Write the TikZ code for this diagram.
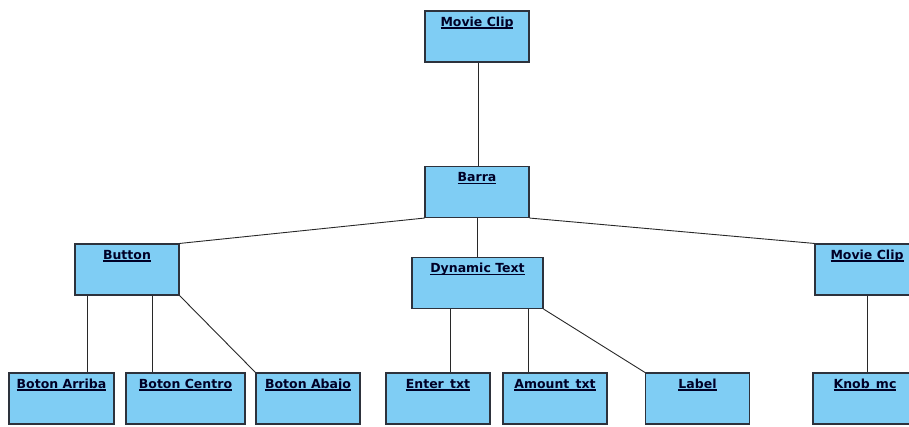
\documentclass[tikz,border=0pt]{standalone}
\usepackage{fontspec}
\setmainfont{DejaVu Sans}
\newsavebox\lblbox
% bold title with a thick underline a little below the baseline
\newcommand\ultitle[1]{\sbox\lblbox{\bfseries #1}\rlap{\usebox\lblbox}\rule[-2.6pt]{\wd\lblbox}{1.2pt}}
\definecolor{boxfill}{RGB}{127,205,244}
\definecolor{boxline}{RGB}{45,50,60}
\definecolor{wire}{RGB}{40,40,40}
\begin{document}
\begin{tikzpicture}[x=1pt,y=-1pt,
  cls/.style={draw=boxline, fill=boxfill, line width=1.1pt, rectangle,
    minimum width=#1, inner xsep=0pt, inner ysep=4pt,
    text height=11pt, text depth=32pt,
    font=\fontsize{12.5}{14}\selectfont, text=black!85!blue},
  cls/.default=104pt,
  link/.style={draw=wire, line width=0.9pt}]
\useasboundingbox (0,0) rectangle (909,426);
\begin{scope}
\clip (0,0) rectangle (909,426);

% top level
\node[cls] (mc1) at (477,36.5) {\ultitle{Movie Clip}};
\node[cls] (barra) at (477,192) {\ultitle{Barra}};

% middle row
\node[cls] (button) at (127,269.5) {\ultitle{Button}};
\node[cls=131pt] (dyn) at (477.5,283) {\ultitle{Dynamic Text}};
\node[cls] (mc2) at (867,269.5) {\ultitle{Movie Clip}};

% bottom row
\node[cls=105pt] (arriba) at (61.5,398.5) {\ultitle{Boton Arriba}};
\node[cls=119pt] (centro) at (185.5,398.5) {\ultitle{Boton Centro}};
\node[cls] (abajo) at (308,398.5) {\ultitle{Boton Abajo}};
\node[cls] (enter) at (438,398.5) {\ultitle{Enter\_txt}};
\node[cls] (amount) at (555,398.5) {\ultitle{Amount\_txt}};
\node[cls] (label) at (697.5,398.5) {\ultitle{Label}};
\node[cls] (knob) at (865,398.5) {\ultitle{Knob\_mc}};

% connectors
\draw[link] ([xshift=1pt]mc1.south) -- ([xshift=1pt]barra.north);
\draw[link] (barra.south west) -- (button.north east);
\draw[link] (barra.south) -- (dyn.north -| barra.south);
\draw[link] (barra.south east) -- (mc2.north west);

\draw[link] ([xshift=13pt]button.south west) -- ([xshift=13pt]button.south west |- arriba.north);
\draw[link] ([xshift=78pt]button.south west) -- ([xshift=78pt]button.south west |- centro.north);
\draw[link] (button.south east) -- (abajo.north west);

\draw[link] ([xshift=39pt]dyn.south west) -- ([xshift=39pt]dyn.south west |- enter.north);
\draw[link] ([xshift=117pt]dyn.south west) -- ([xshift=117pt]dyn.south west |- amount.north);
\draw[link] (dyn.south east) -- (label.north west);

\draw[link] (mc2.south) -- (mc2.south |- knob.north);
\end{scope}
\end{tikzpicture}
\end{document}
